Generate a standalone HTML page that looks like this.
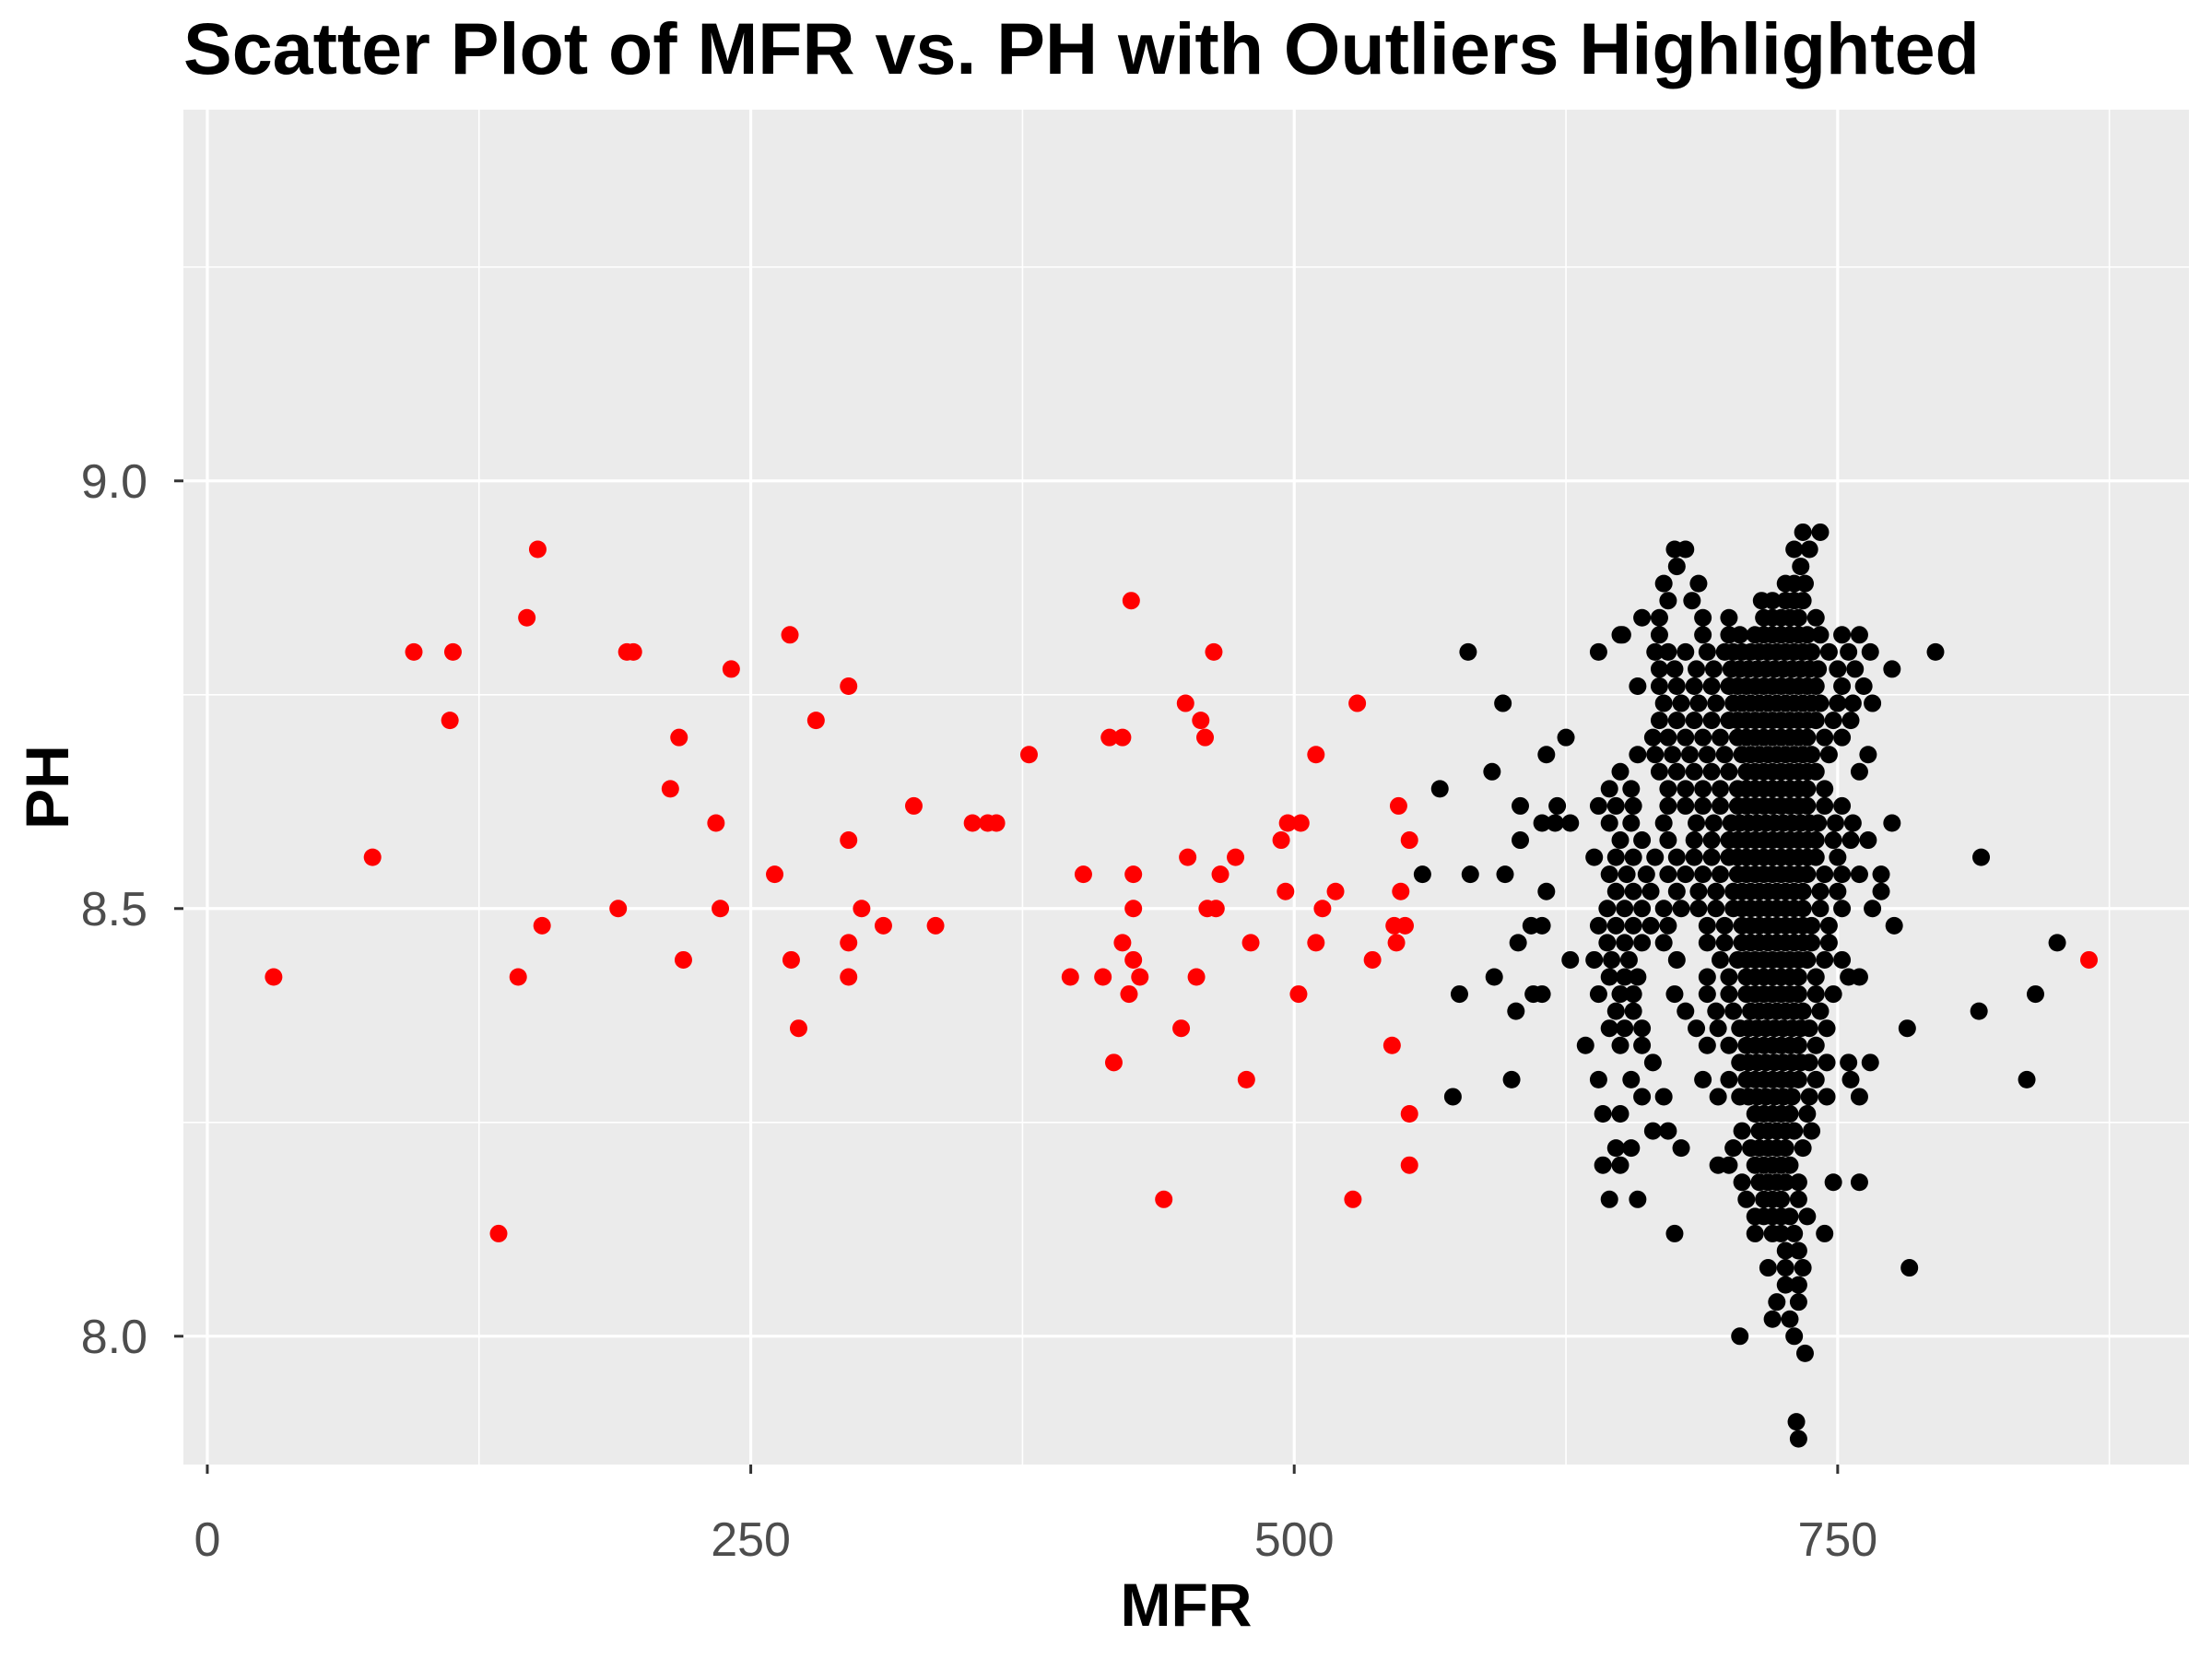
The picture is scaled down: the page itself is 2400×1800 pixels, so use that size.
<!DOCTYPE html>
<html><head><meta charset="utf-8"><style>
html,body{margin:0;padding:0;background:#fff;}
svg{display:block;font-family:"Liberation Sans",Arial,sans-serif;}
</style></head><body>
<svg id="chart" width="2400" height="1800" viewBox="0 0 2400 1800" xmlns="http://www.w3.org/2000/svg">
<rect width="2400" height="1800" fill="#fff"/>
<text x="199" y="80" font-size="79" font-weight="bold" fill="#000">Scatter Plot of MFR vs. PH with Outliers Highlighted</text>
<rect x="199" y="119" width="2176" height="1470" fill="#ebebeb"/>
<g id="grid"></g>
<g id="pts"></g>
<g id="axes"></g>
<text x="1287" y="1764" font-size="66" font-weight="bold" text-anchor="middle" fill="#000">MFR</text>
<text transform="translate(74,854) rotate(-90)" font-size="66" font-weight="bold" text-anchor="middle" fill="#000">PH</text>
</svg>
<script>
const xTicks = [0, 250, 500, 750];
const xMinor = [125, 375, 625, 875];
const yTicks = [8.0, 8.5, 9.0];
const yMinor = [7.75, 8.25, 8.75, 9.25];
const redMFR = [30.5,76,95,113,111.6,134,143,147,152,154,189,193,196,213,217,219,234,236,241,261,268,268.6,272,280,295,295,295,295,301,311,325,335,352,359,363,378,397,403,412,415,421,417,421,424,425,426,426,426,429,440,448,450,451,455,457,459,460,464,463,466,473,478,480,494,496,497,503,502,510,510,513,519,527,529,536,545,546,551,547,548,549,553,553,553,865.6];
const redPH = [8.42,8.56,8.80,8.80,8.72,8.12,8.42,8.84,8.92,8.48,8.50,8.80,8.80,8.64,8.70,8.44,8.60,8.50,8.78,8.54,8.82,8.44,8.36,8.72,8.76,8.58,8.46,8.42,8.50,8.48,8.62,8.48,8.60,8.60,8.60,8.68,8.42,8.54,8.42,8.70,8.70,8.32,8.46,8.40,8.86,8.54,8.50,8.44,8.42,8.16,8.36,8.74,8.56,8.42,8.72,8.70,8.50,8.50,8.80,8.54,8.56,8.30,8.46,8.58,8.52,8.60,8.60,8.40,8.46,8.68,8.50,8.52,8.16,8.74,8.44,8.34,8.48,8.48,8.46,8.62,8.52,8.58,8.26,8.20,8.44];
const sparseMFR = [559,567,573,576,580,581,591,592,596,597,600,602,603,604,604,609,614,610,614,616,616,614,620,627,621,625,627,634,651];
const sparsePH = [8.54,8.64,8.28,8.40,8.80,8.54,8.66,8.42,8.74,8.54,8.30,8.38,8.46,8.62,8.58,8.48,8.48,8.40,8.40,8.68,8.52,8.60,8.60,8.60,8.62,8.70,8.44,8.34,8.82];
const rowPH = [8.94,8.92,8.90,8.88,8.86,8.84,8.82,8.80,8.78,8.76,8.74,8.72,8.70,8.68,8.66,8.64,8.62,8.60,8.58,8.56,8.54,8.52,8.50,8.48,8.46,8.44,8.42,8.40,8.38,8.36,8.34,8.32,8.30,8.28,8.26,8.24,8.22,8.20,8.18,8.16,8.14,8.12,8.10,8.08,8.06,8.04,8.02,8.00,7.98,7.90,7.88];
const rowMFR = [
[734,742],[675,680,730,737],[676,733],[670,686,726,730,735],[672,683,715,720,726,730,734],
[660,668,688,700,716,720,724,728,732,740],
[650,668,688,700,705,712,716,720,724,728,732,736,742,752,760],
[640,666,672,680,690,698,702,706,710,714,718,722,726,730,734,738,746,755,765,795],
[668,675,685,693,701,705,709,713,717,721,725,729,733,737,741,750,758,775],
[658,668,676,684,692,700,704,708,712,716,720,724,728,732,736,740,752,762],
[670,678,686,694,702,706,710,714,718,722,726,730,734,738,742,750,757,766],
[668,676,684,692,700,704,708,712,716,720,724,728,732,736,740,748,756],
[665,672,680,688,696,704,708,712,716,720,724,728,732,736,744,752],
[658,666,674,682,690,698,706,710,714,718,722,726,730,734,738,746,764],
[650,668,676,684,692,700,708,712,716,720,724,728,732,736,740,760],
[645,655,672,680,688,696,704,708,712,716,720,724,728,732,736,744],
[640,648,656,672,680,688,696,704,708,712,716,720,724,728,732,736,744,752],
[645,655,670,685,693,701,705,709,713,717,721,725,729,733,737,741,749,757,775],
[650,660,672,684,692,700,704,708,712,716,720,724,728,732,736,740,748,756,764],
[638,648,656,666,676,684,692,700,704,708,712,716,720,724,728,732,736,740,750,816],
[645,653,662,672,680,688,696,704,708,712,716,720,724,728,732,736,744,752,760,770],
[648,656,664,676,686,694,702,706,710,714,718,722,726,730,734,742,750,770],
[644,652,660,670,678,686,694,702,706,710,714,718,722,726,730,734,742,752,766],
[640,648,656,664,672,690,698,706,710,714,718,722,726,730,734,738,746,776],
[644,652,660,670,690,698,706,710,714,718,722,726,730,734,738,746,851],
[638,646,654,676,696,704,708,712,716,720,724,728,732,736,744,752],
[645,652,658,690,700,708,712,716,720,724,728,732,740,755,760],
[640,650,656,675,690,700,708,712,716,720,724,728,732,740,748,841],
[648,656,680,694,702,710,714,718,722,726,730,734,742,815],
[645,652,660,685,695,705,709,713,717,721,725,729,733,737,745,782],
[650,660,690,700,708,712,716,720,724,728,732,740],
[665,705,709,713,717,721,725,729,733,737,745,755,765],
[640,655,688,700,708,712,716,720,724,728,732,740,756,837],
[660,670,695,705,709,713,717,721,725,729,737,745,760],
[642,650,712,716,720,724,728,736],
[665,672,706,714,718,722,726,730,738],
[648,655,678,702,710,714,718,722,726,734],
[642,650,695,700,712,716,720,724,728],
[706,714,718,722,726,732,748,760],
[645,658,708,716,720,724,732],
[712,716,720,724,728,736],
[675,712,720,724,730,744],
[726,732],[718,726,734,783],[726,732],[722,732],[720,728],[705,730],[735],[731],[732]
];
</script>
<script>
const NS = "http://www.w3.org/2000/svg";
const PL = 199, PR = 2375, PT = 119, PB = 1589;
const xMin = -11, xMax = 911.6, yMin = 7.85, yMax = 9.434;
function X(v){ return PL + (v - xMin) / (xMax - xMin) * (PR - PL); }
function Y(v){ return PB - (v - yMin) / (yMax - yMin) * (PB - PT); }
function mk(tag, attrs, parent){ const e = document.createElementNS(NS, tag); for (const k in attrs) e.setAttribute(k, attrs[k]); parent.appendChild(e); return e; }
const grid = document.getElementById('grid');
const axes = document.getElementById('axes');
const pts = document.getElementById('pts');
xMinor.forEach(v => { const x = X(v); if (x > PL && x < PR) { const l = mk('line', {x1:x, x2:x, y1:PT, y2:PB, stroke:'#fff', 'stroke-width':1.6}, grid);

 } });
yMinor.forEach(v => { const y = Y(v); if (y > PT && y < PB) { const l = mk('line', {x1:PL, x2:PR, y1:y, y2:y, stroke:'#fff', 'stroke-width':1.6}, grid);

 } });
xTicks.forEach(v => { const x = X(v);
const l = mk('line', {x1:x, x2:x, y1:PT, y2:PB, stroke:'#fff', 'stroke-width':3.2}, grid);


const t = mk('line', {x1:x, x2:x, y1:PB, y2:PB+10, stroke:'#333', 'stroke-width':3}, axes);


const tx = mk('text', {x:x, y:1688, 'font-size':52, 'text-anchor':'middle', fill:'#4d4d4d'}, axes);
tx.textContent = String(v);

 });
yTicks.forEach(v => { const y = Y(v);
const l = mk('line', {x1:PL, x2:PR, y1:y, y2:y, stroke:'#fff', 'stroke-width':3.2}, grid);


const t = mk('line', {x1:PL-10, x2:PL, y1:y, y2:y, stroke:'#333', 'stroke-width':3}, axes);


const tx = mk('text', {x:160, y:y+18, 'font-size':52, 'text-anchor':'end', fill:'#4d4d4d'}, axes);
tx.textContent = v.toFixed(1);

 });
const R = 9.5;
function dot(m, p, col){ const c = mk('circle', {cx:X(m), cy:Y(p), r:R, fill:col}, pts); return c; }
sparseMFR.forEach((m, i) => { const c = dot(m, sparsePH[i], '#000');

 });
rowPH.forEach((p, i) => { rowMFR[i].forEach(m => { const c = dot(m, p, '#000');

 }); });
redMFR.forEach((m, i) => { const c = dot(m, redPH[i], '#ff0000');

 });
</script>
</body></html>
